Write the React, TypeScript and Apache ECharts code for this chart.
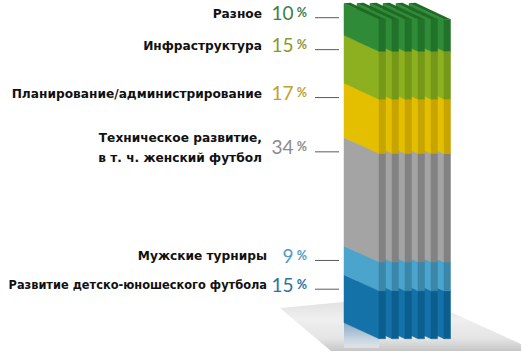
import React, { useEffect, useRef } from "react";
import * as echarts from "echarts";

const categories = [
  "Развитие детско-юношеского футбола",
  "Мужские турниры",
  "Техническое развитие,\nв т. ч. женский футбол",
  "Планирование/администрирование",
  "Инфраструктура",
  "Разное",
];
const values = [15, 9, 34, 17, 15, 10];

const faceColors = ["#1572a8", "#4ba4cc", "#a4a4a4", "#e4bf00", "#8cb01f", "#2f8b37"];
const darkColors = ["#0b5e8e", "#3a87aa", "#828282", "#c7a400", "#759818", "#22732a"];
const pctColors = ["#2a72a2", "#4f9dc2", "#8c8c8c", "#bea12e", "#8a992c", "#3f8044"];
const LABEL_RIGHT = [267, 267, 262, 262, 262, 262];

const PLATES = 6;
const SLOPE = 16 / 35;
const STEP = 13 / 35;
const THICK = 6.5 / 35;

export default function App() {
  const ref = useRef<HTMLDivElement>(null);
  useEffect(() => {
    if (!ref.current) return;
    const chart = echarts.init(ref.current, null, { renderer: "svg" });
    let acc = 0;
    const data = values.map((v, i) => {
      const s = acc;
      acc += v;
      return [0, s, acc, i];
    });
    const last = values.length - 1;
    chart.setOption({
      animation: false,
      grid: { left: 344, width: 35, top: 3.3, bottom: 31.3 },
      xAxis: { type: "category", data: ["Всего"], show: false },
      yAxis: { type: "value", min: 0, max: 100, show: false },
      graphic: [
        {
          type: "polygon",
          z: -10,
          shape: {
            points: [
              [280, 308],
              [344, 302],
              [453, 313],
              [521, 344],
              [521, 351],
              [331, 351],
            ],
          },
          style: {
            fill: new echarts.graphic.LinearGradient(0, 0, 0, 1, [
              { offset: 0, color: "#e2e2e2" },
              { offset: 0.35, color: "#efefef" },
              { offset: 0.75, color: "#e4e4e4" },
              { offset: 1, color: "#c6c6c6" },
            ]),
          },
        },
      ],
      series: [
        {
          type: "custom",
          data,
          renderItem: (params: any, api: any) => {
            const idx = params.dataIndex;
            const s = api.value(1);
            const e = api.value(2);
            const pB = api.coord([0, s]);
            const pT = api.coord([0, e]);
            const W = api.size([1, 0])[0];
            const x0 = pB[0] - W / 2;
            const yB = pB[1];
            const yT = pT[1];
            const S = W * SLOPE;
            const st = W * STEP;
            const T = W * THICK;
            const children: any[] = [];
            if (idx === 0) {
              children.push({
                type: "polygon",
                shape: { points: [[x0, yB], [x0 + W, yB + S], [x0 + W, yB + S + 9], [x0, yB + S + 9]] },
                style: {
                  fill: new echarts.graphic.LinearGradient(0, 0, 0, 1, [
                    { offset: 0, color: "rgba(60,120,170,0.55)" },
                    { offset: 1, color: "rgba(240,244,248,0.6)" },
                  ]),
                },
              });
            }
            for (let p = PLATES - 1; p >= 0; p--) {
              const xl = x0 + p * st;
              children.push({
                type: "polygon",
                shape: { points: [[xl, yT], [xl + W, yT + S], [xl + W, yB + S], [xl, yB]] },
                style: { fill: faceColors[idx], stroke: faceColors[idx], lineWidth: 0.5 },
              });
              children.push({
                type: "rect",
                shape: { x: xl + W, y: yT + S, width: T, height: yB - yT },
                style: { fill: darkColors[idx], stroke: darkColors[idx], lineWidth: 0.5 },
              });
              if (idx === last) {
                children.push({
                  type: "polygon",
                  shape: { points: [[xl, yT], [xl + T, yT - 0.5], [xl + W + T, yT + S], [xl + W, yT + S]] },
                  style: { fill: "#1f6a25" },
                });
              }
            }
            const ly = yT + S * 0.9;
            children.push({
              type: "line",
              shape: { x1: 315, y1: ly, x2: 339, y2: ly },
              style: { stroke: "#5a5a5a", lineWidth: 1 },
            });
            const name = categories[idx];
            const longest = Math.max(...name.split("\n").map((l) => l.length));
            children.push({
              type: "text",
              style: {
                x: LABEL_RIGHT[idx],
                y: ly - 4,
                text: name,
                align: "right",
                verticalAlign: "middle",
                fontFamily: "DejaVu Sans",
                fontWeight: "bold",
                fontSize: longest > 31 ? 11.4 : 12.2,
                lineHeight: 20,
                fill: "#111",
              },
            });
            children.push({
              type: "text",
              style: {
                x: 307,
                y: ly - 5,
                text: "{n|" + values[idx] + "} {p|%}",
                align: "right",
                verticalAlign: "middle",
                fill: pctColors[idx],
                rich: {
                  n: { fontFamily: "Lato", fontSize: 19, fill: pctColors[idx] },
                  p: { fontFamily: "Lato", fontWeight: "bold", fontSize: 12.5, fill: pctColors[idx] },
                },
              },
            });
            return { type: "group", children };
          },
        },
      ],
    });
    return () => chart.dispose();
  }, []);
  return (
    <div
      ref={ref}
      style={{ position: "absolute", left: 0, top: 0, width: 522, height: 354, background: "#fff" }}
    />
  );
}
